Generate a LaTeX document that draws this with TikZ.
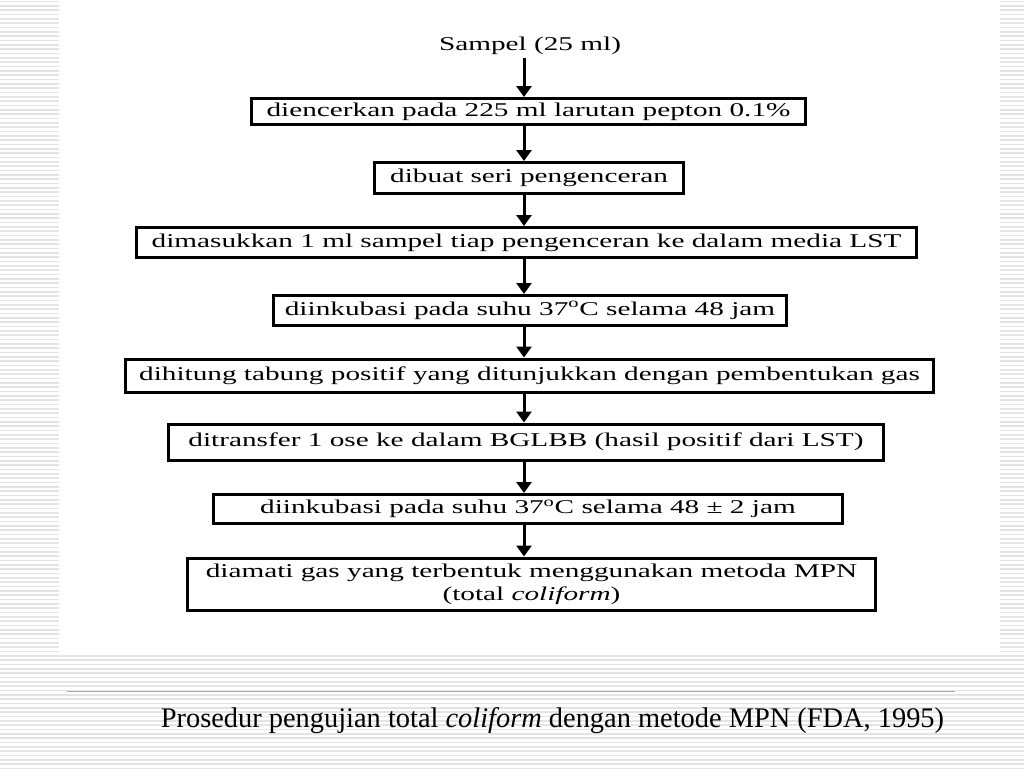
\documentclass[tikz,border=0pt]{standalone}
\usepackage{graphicx}
\usepackage{fontspec}
\setmainfont{Liberation Serif}
\usetikzlibrary{arrows.meta}
\newcommand{\stretchtxt}[1]{\scalebox{1.5}[1]{#1}}
\definecolor{stripecol}{RGB}{228,228,228}
\definecolor{rulecol}{RGB}{196,160,152}
\begin{document}
\begin{tikzpicture}[x=1pt,y=-1pt,
  box/.style={draw, line width=3pt, inner sep=0pt, font=\fontsize{19.5}{24}\selectfont},
  plain/.style={inner sep=3pt, font=\fontsize{19.5}{24}\selectfont},
  arr/.style={line width=3pt, -{Triangle[width=15pt,length=11pt]}},
  stripe/.style={draw=stripecol, line width=1.5pt}]
\useasboundingbox (0,0) rectangle (1024,768);
\foreach \i in {0,...,177} {\draw[stripe] (0,\i*4.333+1.5) -- (1024,\i*4.333+1.5);}
\fill[white] (59,0) rectangle (1000,655);
\draw[rulecol, line width=1pt] (67,691) -- (955,691);

\node[plain] (s0) at (530,46) {\stretchtxt{Sampel (25 ml)}};
\node[box, minimum width=554pt, minimum height=26pt] (b1) at (528.5,111.5) {\stretchtxt{diencerkan pada 225 ml larutan pepton 0.1\%}};
\node[box, minimum width=309pt, minimum height=31pt] (b2) at (529,178) {\stretchtxt{dibuat seri pengenceran}};
\node[box, minimum width=780pt, minimum height=30pt] (b3) at (526.5,242.5) {\stretchtxt{dimasukkan 1 ml sampel tiap pengenceran ke dalam media LST}};
\node[box, minimum width=513pt, minimum height=30pt] (b4) at (530,310.5) {\stretchtxt{diinkubasi pada suhu 37\textsuperscript{o}C selama 48 jam}};
\node[box, minimum width=808pt, minimum height=33pt] (b5) at (529.5,375.5) {\stretchtxt{dihitung tabung positif yang ditunjukkan dengan pembentukan gas}};
\node[box, minimum width=715pt, minimum height=36pt] (b6) at (526,442) {\stretchtxt{ditransfer 1 ose ke dalam BGLBB (hasil positif dari LST)}};
\node[box, minimum width=629pt, minimum height=29pt] (b7) at (528,509) {\stretchtxt{diinkubasi pada suhu 37\textsuperscript{o}C selama 48 ± 2 jam}};
\node[box, minimum width=688pt, minimum height=52pt] (b8) at (531.5,584) {\stretchtxt{\begin{tabular}{@{}c@{}}diamati gas yang terbentuk menggunakan metoda MPN\\[-1pt](total \textit{coliform})\end{tabular}}};

\coordinate (ax) at (524,0);
\draw[arr] (s0.south -| ax) -- (b1.north -| ax);
\draw[arr] (b1.south -| ax) -- (b2.north -| ax);
\draw[arr] (b2.south -| ax) -- (b3.north -| ax);
\draw[arr] (b3.south -| ax) -- (b4.north -| ax);
\draw[arr] (b4.south -| ax) -- (b5.north -| ax);
\draw[arr] (b5.south -| ax) -- (b6.north -| ax);
\draw[arr] (b6.south -| ax) -- (b7.north -| ax);
\draw[arr] (b7.south -| ax) -- (b8.north -| ax);

\node[font=\fontsize{28.4}{33}\selectfont, anchor=base, inner sep=0pt] (cap) at (552.5,727) {Prosedur pengujian total \textit{coliform} dengan metode MPN (FDA, 1995)};
\end{tikzpicture}
\end{document}
